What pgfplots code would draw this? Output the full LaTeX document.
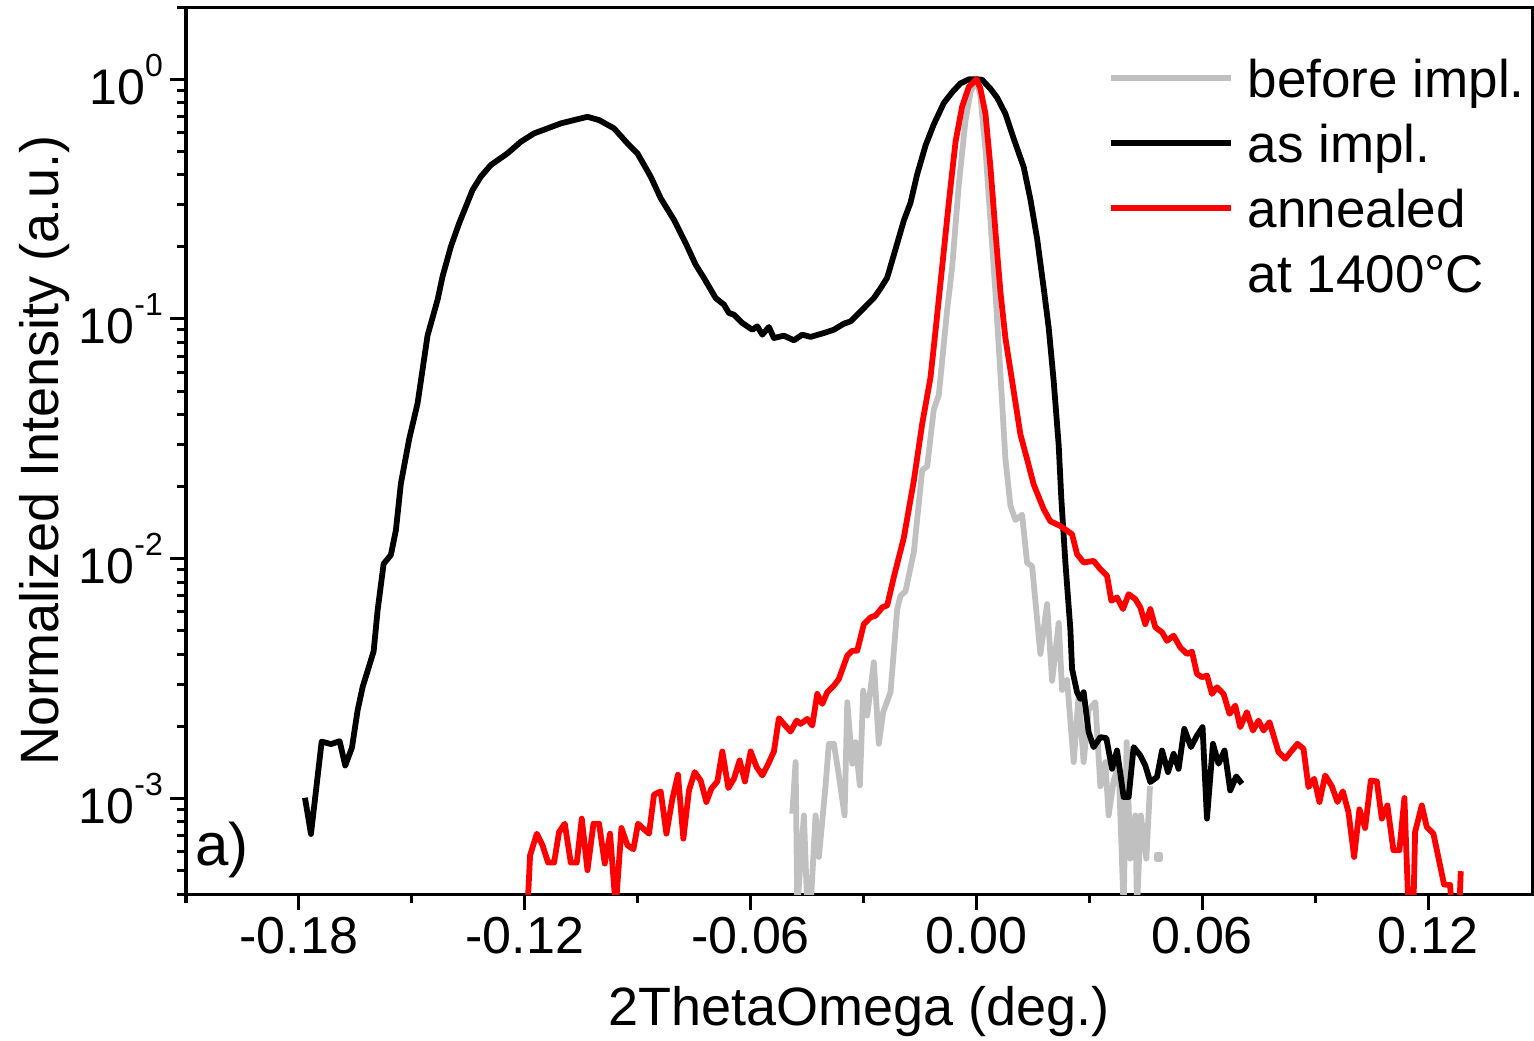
\documentclass[border=0pt]{standalone}
\usepackage{fontspec}
\setmainfont{Liberation Sans}
\usepackage{pgfplots}
\pgfplotsset{compat=1.18}
\definecolor{grayline}{RGB}{192,192,192}
\definecolor{redline}{RGB}{255,0,0}
\newcommand{\expo}[1]{10\raisebox{14pt}{\fontsize{16}{16}\selectfont #1}}
\begin{document}
\begin{tikzpicture}
\begin{semilogyaxis}[
  scale only axis,
  width=673pt, height=443.5pt,
  xmin=-0.21, xmax=0.1476,
  ymin=4e-4, ymax=2,
  axis line style={line width=1.5pt},
  tick style={line width=1.5pt, black},
  tick align=outside,
  tick pos=left,
  major tick length=8pt,
  minor tick length=4.5pt,
  xtick={-0.18,-0.12,-0.06,0,0.06,0.12},
  xticklabels={-0.18,-0.12,-0.06,0.00,0.06,0.12},
  minor xtick={-0.21,-0.15,-0.09,-0.03,0.03,0.09},
  ytick={1e-3,1e-2,1e-1,1},
  yticklabels={\expo{-3},\expo{-2},\expo{-1},\expo{0}},
  minor ytick={4e-4,5e-4,6e-4,7e-4,8e-4,9e-4,2e-3,3e-3,4e-3,5e-3,6e-3,7e-3,8e-3,9e-3,2e-2,3e-2,4e-2,5e-2,6e-2,7e-2,8e-2,9e-2,0.2,0.3,0.4,0.5,0.6,0.7,0.8,0.9,2},
  xticklabel style={font=\fontsize{26}{26}\selectfont},
  yticklabel style={font=\fontsize{25}{25}\selectfont},
  xlabel={2ThetaOmega (deg.)},
  ylabel={Normalized Intensity (a.u.)},
  xlabel style={font=\fontsize{27}{27}\selectfont, at={(axis description cs:0.5,0)}, anchor=base, yshift=-65.5pt},
  ylabel style={font=\fontsize{27}{27}\selectfont, at={(axis description cs:-0.0951,0.5)}, anchor=base},
  legend cell align=left,
  legend image code/.code={\draw[#1] (0pt,0pt) -- (60pt,0pt);},
  legend style={at={(axis description cs:0.685,0.9487)}, anchor=north west, draw=none, fill=none,
    inner sep=0pt, outer sep=0pt, row sep=7pt, column sep=7pt,
    nodes={inner sep=0pt, text height=22.5pt, text depth=3pt, font=\fontsize{26.5}{26.5}\selectfont}},
  every axis plot/.append style={line width=2.9pt, line join=round, line cap=butt},
]
\addplot[grayline] coordinates {
(-0.04892,8.65e-4) (-0.04805,1.420e-3) (-0.04760,3.5e-4) (-0.04584,8.51e-4) (-0.04494,3.5e-4) (-0.04407,3.5e-4) (-0.04274,8.51e-4) (-0.04186,5.71e-4) (-0.04008,1.135e-3) (-0.03921,1.692e-3) (-0.03788,1.692e-3) (-0.03655,1.249e-3) (-0.03504,8.51e-4) (-0.03432,2.523e-3) (-0.03300,1.397e-3) (-0.03212,1.720e-3) (-0.03098,1.135e-3) (-0.03008,2.820e-3) (-0.02902,2.220e-3) (-0.02726,3.702e-3) (-0.02594,1.692e-3) (-0.02477,2.293e-3) (-0.02283,2.777e-3) (-0.02105,6.17e-3) (-0.02017,7.01e-3) (-0.01885,7.32e-3) (-0.01664,1.066e-2) (-0.01441,2.344e-2) (-0.01309,2.426e-2) (-0.01134,4.195e-2) (-0.01001,4.81e-2) (-0.00778,0.1093) (-0.00645,0.1649) (-0.00470,0.3622) (-0.00292,0.6707) (-0.00159,0.882) (0,1) (0.00106,0.852) (0.00239,0.510) (0.00372,0.2572) (0.00504,0.1298) (0.00637,0.0590) (0.00770,0.0260) (0.00903,0.01665) (0.01035,0.01452) (0.01213,0.01527) (0.01346,9.62e-3) (0.01479,9.31e-3) (0.01699,4.01e-3) (0.01877,6.47e-3) (0.02010,3.10e-3) (0.02185,5.40e-3) (0.02275,2.839e-3) (0.02408,3.125e-3) (0.02583,1.420e-3) (0.02716,2.706e-3) (0.02848,1.420e-3) (0.02981,2.344e-3) (0.03159,2.523e-3) (0.03292,1.126e-3) (0.03425,1.420e-3) (0.03512,8.51e-4) (0.03645,1.190e-3) (0.03778,1.374e-3) (0.03910,3.5e-4) (0.03990,1.720e-3) (0.04088,5.62e-4) (0.04221,8.51e-4) (0.04266,3.5e-4) (0.04367,8.51e-4) (0.04513,5.62e-4) (0.04611,1.126e-3)
};
\addlegendentry{before impl.}
\addplot[black] coordinates {
(-0.17839,1.008e-3) (-0.17680,7.12e-4) (-0.17396,1.729e-3) (-0.17149,1.688e-3) (-0.16918,1.735e-3) (-0.16769,1.374e-3) (-0.16591,1.631e-3) (-0.16440,2.337e-3) (-0.16307,2.921e-3) (-0.16015,4.113e-3) (-0.15909,6.10e-3) (-0.15750,9.52e-3) (-0.15556,1.038e-2) (-0.15423,1.319e-2) (-0.15291,2.060e-2) (-0.15070,3.161e-2) (-0.14847,4.455e-2) (-0.14582,8.54e-2) (-0.14316,0.1203) (-0.14184,0.1504) (-0.13963,0.2005) (-0.13743,0.2508) (-0.13387,0.3451) (-0.13167,0.3922) (-0.12901,0.4386) (-0.12458,0.4907) (-0.12105,0.5483) (-0.11752,0.5943) (-0.11396,0.6235) (-0.11043,0.6540) (-0.10690,0.6753) (-0.10334,0.6969) (-0.10026,0.6753) (-0.09628,0.6235) (-0.09273,0.5401) (-0.09007,0.4907) (-0.08654,0.3922) (-0.08389,0.3189) (-0.08035,0.2590) (-0.07725,0.2072) (-0.07459,0.1683) (-0.07239,0.1482) (-0.06929,0.1223) (-0.06708,0.1147) (-0.06575,0.1059) (-0.06443,0.1042) (-0.06220,0.0962) (-0.05954,0.0902) (-0.05822,0.0932) (-0.05689,0.0860) (-0.05514,0.0926) (-0.05381,0.0833) (-0.05115,0.0852) (-0.04850,0.0815) (-0.04627,0.0860) (-0.04407,0.0842) (-0.04054,0.0874) (-0.03788,0.0902) (-0.03523,0.0956) (-0.03345,0.0977) (-0.03079,0.1076) (-0.02726,0.1223) (-0.02548,0.1342) (-0.02371,0.1487) (-0.02150,0.1956) (-0.01930,0.2572) (-0.01752,0.3051) (-0.01574,0.4013) (-0.01354,0.5280) (-0.01134,0.6478) (-0.00868,0.7951) (-0.00645,0.8821) (-0.00425,0.9605) (-0.00204,0.998) (0,1) (0.00151,0.994) (0.00372,0.912) (0.00550,0.8375) (0.00770,0.7178) (0.00990,0.5649) (0.01256,0.4300) (0.01433,0.3157) (0.01611,0.2168) (0.01787,0.1342) (0.01919,0.0921) (0.02052,0.0551) (0.02185,0.0298) (0.02256,0.0177) (0.02363,9.65e-3) (0.02495,5.09e-3) (0.02540,3.47e-3) (0.02673,2.777e-3) (0.02761,2.604e-3) (0.02848,2.777e-3) (0.02981,1.892e-3) (0.03114,1.640e-3) (0.03292,1.804e-3) (0.03451,1.787e-3) (0.03602,1.331e-3) (0.03735,1.587e-3) (0.03910,1.015e-3) (0.04043,1.015e-3) (0.04176,1.640e-3) (0.04354,1.513e-3) (0.04486,1.374e-3) (0.04619,1.172e-3) (0.04797,1.230e-3) (0.04930,1.587e-3) (0.05089,1.290e-3) (0.05238,1.537e-3) (0.05370,1.331e-3) (0.05522,1.953e-3) (0.05699,1.640e-3) (0.05859,1.832e-3) (0.06007,1.986e-3) (0.06124,8.25e-4) (0.06283,1.692e-3) (0.06432,1.397e-3) (0.06591,1.587e-3) (0.06743,1.082e-3) (0.06902,1.237e-3) (0.07053,1.153e-3)
};
\addlegendentry{as impl.}
\addplot[redline] coordinates {
(-0.11927,3.5e-4) (-0.11858,5.80e-4) (-0.11680,7.14e-4) (-0.11529,6.39e-4) (-0.11380,5.41e-4) (-0.11221,5.41e-4) (-0.11088,7.26e-4) (-0.10937,7.86e-4) (-0.10778,5.41e-4) (-0.10618,5.41e-4) (-0.10486,8.25e-4) (-0.10334,5.03e-4) (-0.10175,7.86e-4) (-0.10026,7.86e-4) (-0.09875,5.36e-4) (-0.09734,7.14e-4) (-0.09583,3.5e-4) (-0.09432,7.54e-4) (-0.09273,6.39e-4) (-0.09113,6.15e-4) (-0.08991,7.86e-4) (-0.08848,7.49e-4) (-0.08699,7.14e-4) (-0.08566,1.038e-3) (-0.08389,1.072e-3) (-0.08237,7.14e-4) (-0.08078,9.99e-4) (-0.07929,1.257e-3) (-0.07786,6.81e-4) (-0.07637,1.082e-3) (-0.07486,1.290e-3) (-0.07327,1.190e-3) (-0.07175,9.68e-4) (-0.07043,1.100e-3) (-0.06883,1.179e-3) (-0.06751,1.572e-3) (-0.06591,1.107e-3) (-0.06443,1.210e-3) (-0.06291,1.442e-3) (-0.06151,1.179e-3) (-0.05999,1.572e-3) (-0.05840,1.353e-3) (-0.05689,1.249e-3) (-0.05530,1.397e-3) (-0.05381,1.572e-3) (-0.05248,2.164e-3) (-0.05097,2.030e-3) (-0.04938,1.904e-3) (-0.04778,2.115e-3) (-0.04672,2.049e-3) (-0.04494,2.150e-3) (-0.04362,2.017e-3) (-0.04229,2.732e-3) (-0.04096,2.483e-3) (-0.03963,2.777e-3) (-0.03788,2.958e-3) (-0.03655,3.155e-3) (-0.03432,3.944e-3) (-0.03300,4.137e-3) (-0.03167,4.137e-3) (-0.02992,5.34e-3) (-0.02814,5.70e-3) (-0.02681,5.79e-3) (-0.02503,6.27e-3) (-0.02371,6.39e-3) (-0.02195,8.39e-3) (-0.01930,1.223e-2) (-0.01664,2.115e-2) (-0.01441,3.656e-2) (-0.01221,5.70e-2) (-0.01088,8.91e-2) (-0.00911,0.1649) (-0.00735,0.3051) (-0.00557,0.5463) (-0.00380,0.7691) (-0.00204,0.928) (0,1) (0.00106,0.912) (0.00239,0.7178) (0.00372,0.4300) (0.00504,0.2322) (0.00637,0.1298) (0.00770,0.0831) (0.00948,0.0551) (0.01168,0.0330) (0.01346,0.0260) (0.01521,0.0204) (0.01787,0.01609) (0.01964,0.01434) (0.02230,0.01370) (0.02540,0.01266) (0.02673,0.01045) (0.02848,9.65e-3) (0.03114,9.80e-3) (0.03292,9.05e-3) (0.03470,8.49e-3) (0.03584,6.68e-3) (0.03735,6.90e-3) (0.03894,6.17e-3) (0.04043,7.12e-3) (0.04221,6.79e-3) (0.04354,6.27e-3) (0.04486,5.34e-3) (0.04619,6.17e-3) (0.04752,5.18e-3) (0.04930,4.94e-3) (0.05062,4.55e-3) (0.05238,4.78e-3) (0.05415,4.27e-3) (0.05593,4.01e-3) (0.05726,4.10e-3) (0.05859,3.31e-3) (0.05991,3.21e-3) (0.06124,3.26e-3) (0.06257,2.732e-3) (0.06390,2.913e-3) (0.06565,2.732e-3) (0.06724,2.256e-3) (0.06875,2.443e-3) (0.07008,1.986e-3) (0.07186,2.293e-3) (0.07345,1.922e-3) (0.07494,2.115e-3) (0.07627,1.922e-3) (0.07786,2.083e-3) (0.08025,1.563e-3) (0.08203,1.466e-3) (0.08381,1.587e-3) (0.08529,1.692e-3) (0.08689,1.613e-3) (0.08821,1.117e-3) (0.08972,1.210e-3) (0.09113,9.68e-4) (0.09265,1.249e-3) (0.09442,1.126e-3) (0.09591,9.68e-4) (0.09734,1.072e-3) (0.09883,8.79e-4) (0.10034,5.71e-4) (0.10175,9.02e-4) (0.10326,7.54e-4) (0.10478,1.190e-3) (0.10637,1.179e-3) (0.10770,8.25e-4) (0.10918,9.37e-4) (0.11078,6.09e-4) (0.11237,6.09e-4) (0.11370,1.006e-3) (0.11476,3.5e-4) (0.11609,3.5e-4) (0.11654,7.26e-4) (0.11832,9.37e-4) (0.11964,7.61e-4) (0.12140,7.14e-4) (0.12317,5.27e-4) (0.12423,4.38e-4) (0.12583,4.37e-4) (0.12628,3.5e-4) (0.12830,3.5e-4) (0.12867,4.98e-4)
};
\addlegendentry{annealed}
\addlegendimage{empty legend}
\addlegendentry{at 1400°C}
\addplot[grayline, only marks, mark=square*, mark size=1pt, forget plot] coordinates {(0.04839,5.71e-4)};
\node[anchor=base west, inner sep=0pt, font=\fontsize{30}{30}\selectfont] at (rel axis cs:0.0067,0.0327) {a)};
\end{semilogyaxis}
\pgfresetboundingbox
\path ([shift={(-93pt,-73pt)}]current axis.south west) rectangle ([shift={(1pt,3.5pt)}]current axis.north east);
\end{tikzpicture}
\end{document}
